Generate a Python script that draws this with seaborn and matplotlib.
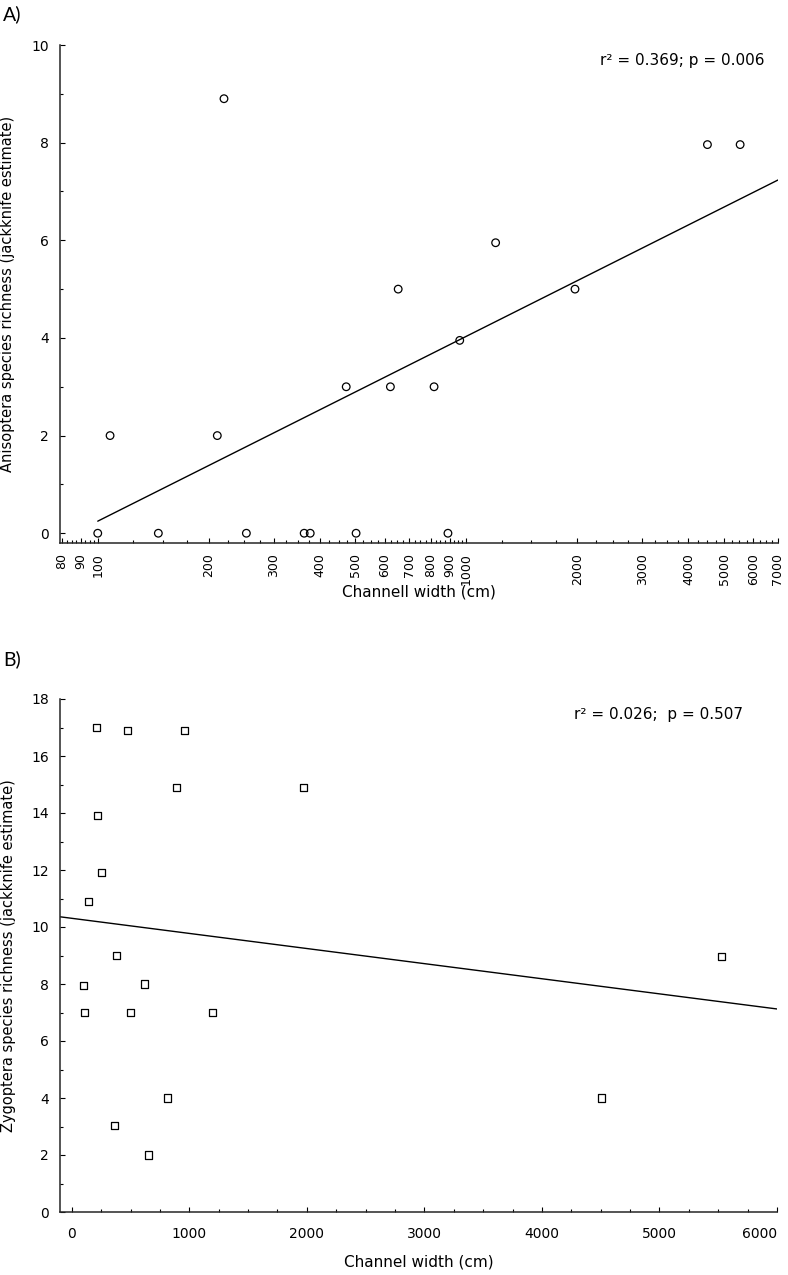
import numpy as np
import matplotlib
matplotlib.use("Agg")
import matplotlib.pyplot as plt
import seaborn as sns

# === Data ===
# channel width of the sampled streams (cm), shared by both panels
channel_width = [100, 108, 146, 211, 220, 253, 363, 377, 472, 502,
                 622, 653, 817, 891, 959, 1200, 1970, 4505, 5526]
# jackknife richness estimates
anisoptera = [0, 2, 0, 2, 8.9, 0, 0, 0, 3, 0,
              3, 5, 3, 0, 3.95, 5.95, 5, 7.96, 7.96]
zygoptera = [7.95, 7, 10.9, 17, 13.9, 11.9, 3.05, 9, 16.9, 7,
             8, 2, 4, 14.9, 16.9, 7, 14.9, 4, 8.95]

# tick positions / labels for the log axis of panel A
log_ticks = [80, 90, 100, 200, 300, 400, 500, 600, 700, 800, 900,
             1000, 2000, 3000, 4000, 5000, 6000, 7000]
log_minor = (list(np.arange(80, 100, 2.5)) + list(np.arange(100, 1000, 25))
             + list(np.arange(1000, 7000, 250)))

stats_a = "r\u00b2 = 0.369; p = 0.006"
stats_b = "r\u00b2 = 0.026;  p = 0.507"

sns.set_style("ticks")
plt.rcParams["font.family"] = ["DejaVu Sans"]
plt.rcParams["axes.linewidth"] = 1.1
plt.rcParams["text.color"] = "black"
plt.rcParams["axes.labelcolor"] = "black"

fig = plt.figure(figsize=(7.88, 12.75), dpi=100)
W, H = 788, 1275


def px_axes(left, top, right, bottom):
    return fig.add_axes([left / W, 1 - bottom / H, (right - left) / W, (bottom - top) / H])


ax_a = px_axes(60, 45, 778, 543)
ax_b = px_axes(60, 699, 777, 1212)

scatter_style = dict(edgecolors="black", facecolors="none", linewidths=0.9, alpha=1, zorder=3)
line_style = dict(color="black", lw=1.0)

# === Panel A: log-scaled channel width ===
ax_a.set_xscale("log")
ax_a.set_xlim(100, 7000)  # fitted line is drawn from 100 to 7000
sns.regplot(x=channel_width, y=anisoptera, ax=ax_a, logx=True, ci=None,
            truncate=False, marker="o", color="black",
            scatter_kws=dict(s=30, **scatter_style), line_kws=line_style)
ax_a.set_xlim(79, 7000)
ax_a.set_ylim(-0.2, 10)
ax_a.set_xticks(log_ticks)
ax_a.set_xticklabels([str(t) for t in log_ticks], rotation=90)
ax_a.set_xticks(log_minor, minor=True)
ax_a.xaxis.set_minor_formatter(matplotlib.ticker.NullFormatter())
ax_a.set_yticks(range(0, 11, 2))
ax_a.set_yticks(range(1, 10, 2), minor=True)
ax_a.set_xlabel("Channell width (cm)", fontsize=11)
ax_a.set_ylabel("Anisoptera species richness (jackknife estimate)", fontsize=10.5)

# === Panel B: linear channel width ===
ax_b.set_xlim(-100, 6000)
sns.regplot(x=channel_width, y=zygoptera, ax=ax_b, ci=None,
            truncate=False, marker="s", color="black",
            scatter_kws=dict(s=26, **scatter_style), line_kws=line_style)
ax_b.set_xlim(-100, 6000)
ax_b.set_ylim(0, 18)
ax_b.set_xticks(range(0, 6001, 1000))
ax_b.set_xticks(range(0, 6001, 250), minor=True)
ax_b.set_yticks(range(0, 19, 2))
ax_b.set_yticks(range(1, 18, 2), minor=True)
ax_b.set_xlabel("Channel width (cm)", fontsize=11)
ax_b.set_ylabel("Zygoptera species richness (jackknife estimate)", fontsize=10.5)

for ax in (ax_a, ax_b):
    sns.despine(ax=ax)
    ax.tick_params(which="both", direction="in", width=0.8, labelsize=10, colors="black")
    ax.tick_params(which="major", length=3.5)
    ax.tick_params(which="minor", length=2.2)
    ax.tick_params(axis="y", pad=8)
ax_a.tick_params(axis="x", which="major", pad=7, labelsize=9)
ax_b.tick_params(axis="x", which="major", pad=11)

# last label of panel B sits left of its tick, as in the original
ax_b.get_xticklabels()[-1].set_horizontalalignment("right")

# label positions in axes fractions
ax_a.xaxis.set_label_coords(0.5, -0.084)
ax_b.xaxis.set_label_coords(0.5, -0.082)
ax_a.yaxis.set_label_coords(-0.062, 0.5)
ax_b.yaxis.set_label_coords(-0.062, 0.5)

fig.text(765 / W, 1 - 60 / H, stats_a, ha="right", va="center", fontsize=11)
fig.text(743 / W, 1 - 715 / H, stats_b, ha="right", va="center", fontsize=11)
fig.text(3 / W, 1 - 14 / H, "A)", ha="left", va="center", fontsize=14, family=["Lato", "DejaVu Sans"])
fig.text(3 / W, 1 - 659 / H, "B)", ha="left", va="center", fontsize=14, family=["Lato", "DejaVu Sans"])

fig.savefig("out.png", dpi=100)
